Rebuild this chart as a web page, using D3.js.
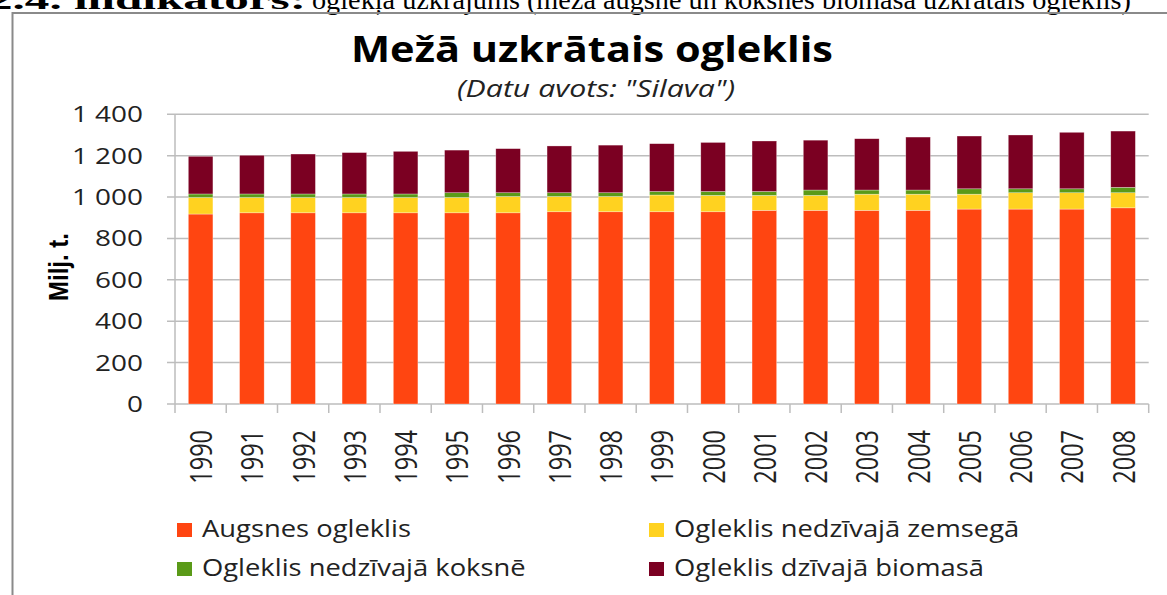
<!DOCTYPE html>
<html>
<head>
<meta charset="utf-8">
<script src="https://cdn.jsdelivr.net/npm/d3@7"></script>
<style>
  html, body { margin: 0; padding: 0; background: #fff; overflow: hidden; }
  svg { display: block; }
</style>
</head>
<body>
<div id="chart"></div>
<script>
// data (Milj. t.)
const years = ['1990', '1991', '1992', '1993', '1994', '1995', '1996', '1997', '1998', '1999',
  '2000', '2001', '2002', '2003', '2004', '2005', '2006', '2007', '2008'];
const augsnesOgleklis = [918, 924, 924, 924, 924, 924, 924, 929, 929, 929, 929, 936, 936, 936, 936, 942, 942, 942, 948];
const nedzivajaZemsega = [80, 74, 74, 74, 74, 74, 79, 74, 74, 81, 79, 72, 72, 78, 78, 72, 79, 79, 73];
const nedzivajaKoksne = [17, 17, 17, 17, 17, 23, 18, 18, 18, 17, 19, 19, 26, 20, 20, 26, 19, 19, 26];
const dzivajaBiomasa = [182, 187, 193, 200, 206, 206, 213, 226, 230, 231, 237, 244, 241, 248, 256, 255, 260, 273, 272];
const yTicks = [0, 200, 400, 600, 800, 1000, 1200, 1400];

const seriesNames = ['Augsnes ogleklis', 'Ogleklis nedzīvajā zemsegā', 'Ogleklis nedzīvajā koksnē', 'Ogleklis dzīvajā biomasā'];
const seriesColors = ['#ff4511', '#ffd220', '#5a9a18', '#7b0022'];

const chartTitle = 'Mežā uzkrātais ogleklis';
const chartSubtitle = '(Datu avots: "Silava")';
const yTitle = 'Milj. t.';
const headBold = '2.4. indikators:';
const headText = 'oglekļa uzkrājums (meža augsnē un koksnes biomasā uzkrātais ogleklis)';

const W = 1167, H = 595;
const margin = { top: 114.3, right: 18.3, bottom: 191, left: 175 };
const width = W - margin.left - margin.right;
const height = H - margin.top - margin.bottom;
const sansFont = '"Open Sans", "DejaVu Sans", sans-serif';
const serifFont = '"Liberation Serif", "Times New Roman", serif';

const rows = years.map((y, i) => ({
  year: y,
  s0: augsnesOgleklis[i],
  s1: nedzivajaZemsega[i],
  s2: nedzivajaKoksne[i],
  s3: dzivajaBiomasa[i]
}));
const keys = ['s0', 's1', 's2', 's3'];
const stacked = d3.stack().keys(keys)(rows);

const svg = d3.select('#chart').append('svg')
  .attr('width', W)
  .attr('height', H);

// document heading, cut by the top of the picture
svg.append('text')
  .attr('x', 306).attr('y', 9)
  .attr('text-anchor', 'end')
  .attr('textLength', 318)
  .attr('lengthAdjust', 'spacingAndGlyphs')
  .style('font-family', serifFont)
  .style('font-size', '28px')
  .style('font-weight', 'bold')
  .text(headBold);
svg.append('text')
  .attr('x', 312).attr('y', 9)
  .attr('textLength', 819)
  .attr('lengthAdjust', 'spacingAndGlyphs')
  .style('font-family', serifFont)
  .style('font-size', '28px')
  .text(headText);

// chart frame
svg.append('rect')
  .attr('x', 12.5).attr('y', 13)
  .attr('width', 1300).attr('height', 700)
  .attr('fill', 'none')
  .attr('stroke', '#8a8a8a')
  .attr('stroke-width', 2);

// titles
svg.append('text')
  .attr('x', 592).attr('y', 62)
  .attr('text-anchor', 'middle')
  .attr('textLength', 482)
  .attr('lengthAdjust', 'spacingAndGlyphs')
  .style('font-family', sansFont)
  .style('font-size', '36px')
  .style('font-weight', 'bold')
  .text(chartTitle);

svg.append('text')
  .attr('x', 596).attr('y', 97)
  .attr('text-anchor', 'middle')
  .attr('textLength', 278)
  .attr('lengthAdjust', 'spacingAndGlyphs')
  .style('font-family', sansFont)
  .style('font-size', '23px')
  .style('font-style', 'italic')
  .attr('fill', '#222')
  .text(chartSubtitle);

// scales
const xScale = d3.scaleBand().domain(years)
  .range([0, width])
  .paddingInner(0.52)
  .paddingOuter(0.26);
const yScale = d3.scaleLinear().domain([0, 1400]).range([height, 0]);
const step = xScale.step();

const chart = svg.append('g')
  .attr('transform', `translate(${margin.left}, ${margin.top})`);

// gridlines with small ticks on the left
chart.append('g')
  .attr('class', 'grid')
  .selectAll('line')
  .data(yTicks)
  .enter()
  .append('line')
  .attr('x1', -8)
  .attr('x2', width)
  .attr('y1', (d) => yScale(d))
  .attr('y2', (d) => yScale(d))
  .attr('stroke', '#bdbdbd')
  .attr('stroke-width', 1.5);

// y axis line
chart.append('line')
  .attr('x1', 0).attr('x2', 0)
  .attr('y1', 0).attr('y2', height)
  .attr('stroke', '#bdbdbd')
  .attr('stroke-width', 1.5);

// x axis ticks at category boundaries
chart.append('g')
  .selectAll('line')
  .data(d3.range(years.length + 1))
  .enter()
  .append('line')
  .attr('x1', (d) => d * step)
  .attr('x2', (d) => d * step)
  .attr('y1', height)
  .attr('y2', height + 9)
  .attr('stroke', '#bdbdbd')
  .attr('stroke-width', 1.5);

// stacked bars
chart.append('g')
  .attr('class', 'bars')
  .selectAll('g')
  .data(stacked)
  .enter()
  .append('g')
  .attr('fill', (d, i) => seriesColors[i])
  .selectAll('rect')
  .data((d) => d)
  .enter()
  .append('rect')
  .attr('x', (d) => xScale(d.data.year))
  .attr('width', xScale.bandwidth())
  .attr('y', (d) => yScale(d[1]))
  .attr('height', (d) => yScale(d[0]) - yScale(d[1]))
  .attr('stroke', '#ffffff')
  .attr('stroke-opacity', 0.5)
  .attr('stroke-width', 0.6);

// y tick labels
const fmt = d3.formatLocale({ decimal: ',', thousands: ' ', grouping: [3] }).format(',d');
svg.append('g')
  .attr('class', 'axis-y')
  .selectAll('text')
  .data(yTicks)
  .enter()
  .append('text')
  .attr('transform', (d) => `translate(143, ${margin.top + yScale(d)}) scale(1.27, 1)`)
  .attr('text-anchor', 'end')
  .attr('dy', '0.36em')
  .style('font-family', sansFont)
  .style('font-size', '22px')
  .attr('fill', '#222')
  .text((d) => fmt(d));

// year labels
svg.append('g')
  .attr('class', 'axis-x')
  .selectAll('text')
  .data(years)
  .enter()
  .append('text')
  .attr('transform', (d) => `translate(${margin.left + xScale(d) + xScale.bandwidth() / 2}, 430) rotate(-90) scale(1, 1.35)`)
  .attr('text-anchor', 'end')
  .attr('dy', '0.36em')
  .style('font-family', sansFont)
  .style('font-size', '23.5px')
  .attr('fill', '#222')
  .text((d) => d);

// y axis title
svg.append('text')
  .attr('transform', 'translate(58, 267) rotate(-90) scale(1, 1.15)')
  .attr('text-anchor', 'middle')
  .attr('dy', '0.36em')
  .style('font-family', '"Liberation Sans", Arial, sans-serif')
  .style('font-size', '24px')
  .style('font-weight', 'bold')
  .text(yTitle);

// legend, two columns
const legendPos = [[177, 523], [649, 523], [177, 562], [649, 562]];
const legend = svg.append('g')
  .attr('class', 'legend')
  .selectAll('g')
  .data(seriesNames)
  .enter()
  .append('g')
  .attr('transform', (d, i) => `translate(${legendPos[i][0]}, ${legendPos[i][1]})`);

legend.append('rect')
  .attr('width', 15)
  .attr('height', 14)
  .attr('fill', (d, i) => seriesColors[i]);

legend.append('text')
  .attr('transform', 'translate(25, 14) scale(1.14, 1)')
  .style('font-family', sansFont)
  .style('font-size', '24px')
  .attr('fill', '#222')
  .text((d) => d);
</script>
</body>
</html>
